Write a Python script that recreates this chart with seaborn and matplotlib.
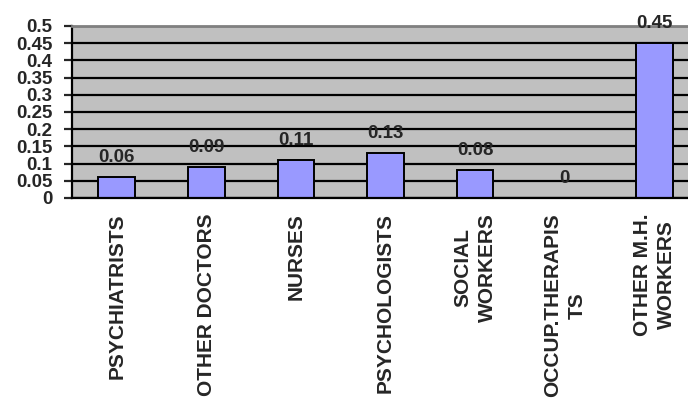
import numpy as np
import pandas as pd
import matplotlib
matplotlib.use("Agg")
import matplotlib.pyplot as plt
import seaborn as sns

# data
categories = ["PSYCHIATRISTS", "OTHER DOCTORS", "NURSES", "PSYCHOLOGISTS",
              "SOCIAL\nWORKERS", "OCCUP.THERAPIS\nTS", "OTHER M.H.\nWORKERS"]
values = [0.06, 0.09, 0.11, 0.13, 0.08, 0.0, 0.45]
value_labels = ["0.06", "0.09", "0.11", "0.13", "0.08", "0", "0.45"]
y_ticks = [0, 0.05, 0.1, 0.15, 0.2, 0.25, 0.3, 0.35, 0.4, 0.45, 0.5]
y_tick_labels = ["0", "0.05", "0.1", "0.15", "0.2", "0.25", "0.3", "0.35", "0.4", "0.45", "0.5"]

df = pd.DataFrame({"category": categories, "value": values})

sns.set_style("white")
plt.rcParams["font.family"] = ["Liberation Sans", "DejaVu Sans"]

fig = plt.figure(figsize=(6.88, 4.04), dpi=100)
ax = fig.add_axes([72 / 688, 1 - 198 / 404, (699 - 72) / 688, (198 - 26) / 404])
ax.set_facecolor("#C0C0C0")

sns.barplot(data=df, x="category", y="value", color="#9999FF", saturation=1,
            edgecolor="black", linewidth=1.4, width=0.41, ax=ax)

# value labels on top of bars
ax.bar_label(ax.containers[0], labels=value_labels, padding=8,
             fontsize=13.5, fontweight="bold")

ax.set_ylim(0, 0.5)
ax.set_yticks(y_ticks)
ax.set_yticklabels(y_tick_labels, fontsize=13.5, fontweight="bold")
ax.set_xticks(range(len(categories)))
ax.set_xticklabels(categories, rotation=90, fontsize=15, fontweight="bold",
                   va="top", ha="center", multialignment="center", linespacing=1.35)
ax.set_xlim(-0.5, len(categories) - 0.5)
ax.set_xlabel("")
ax.set_ylabel("")

# grid + ticks, excel style
ax.yaxis.grid(True, color="black", linewidth=1.6)
ax.set_axisbelow(True)
ax.tick_params(axis="y", direction="out", length=6, width=1.6, pad=8, left=True)
ax.tick_params(axis="x", direction="out", length=6, width=1.6, pad=11, bottom=True)

# x ticks sit between categories like Excel; move them with minor ticks
ax.set_xticks(np.arange(-0.5, len(categories), 1), minor=True)
ax.tick_params(axis="x", which="major", length=0)
ax.tick_params(axis="x", which="minor", direction="out", length=6, width=1.6)

for side in ["left", "bottom"]:
    ax.spines[side].set_color("black")
    ax.spines[side].set_linewidth(1.6)
ax.spines["top"].set_color("#808080")
ax.spines["top"].set_linewidth(2)
ax.spines["right"].set_visible(False)

plt.savefig("out.png", dpi=100)
